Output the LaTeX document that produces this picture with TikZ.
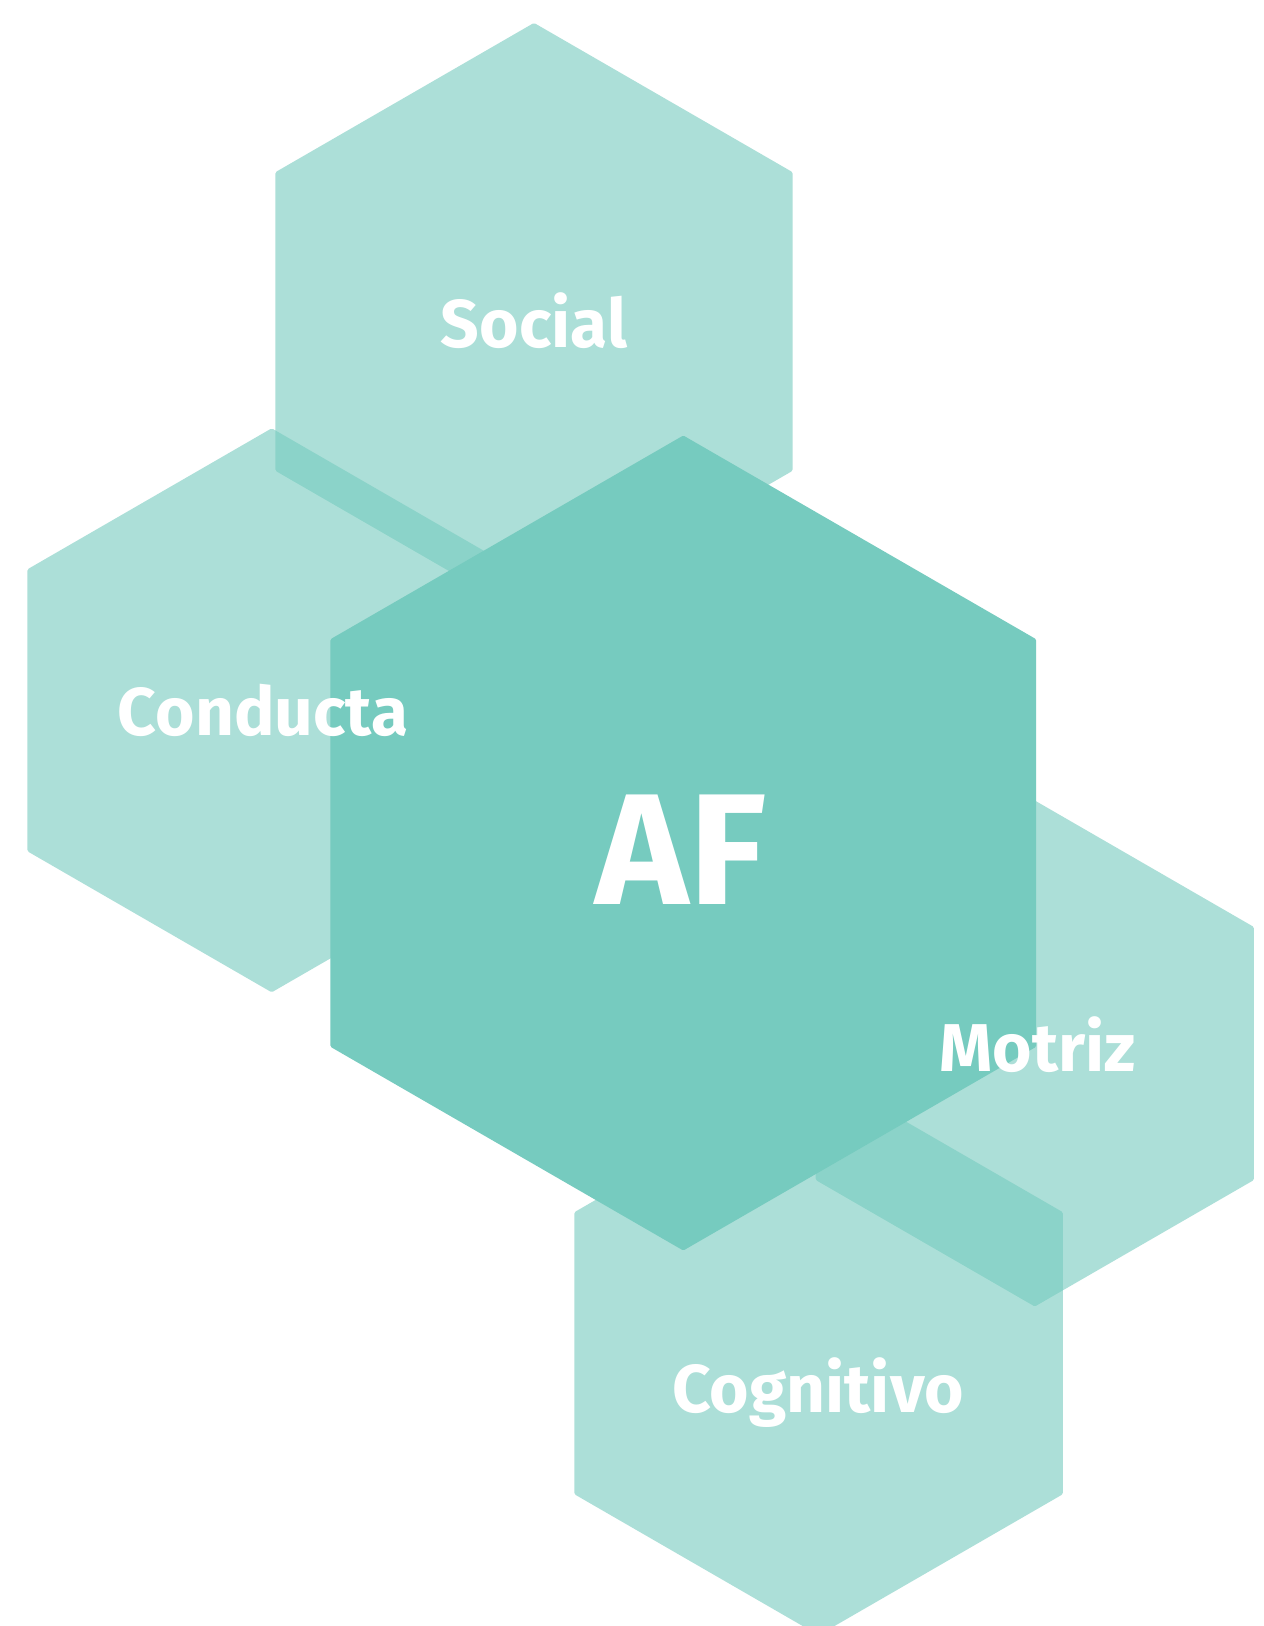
\documentclass[tikz,border=0pt]{standalone}
\usepackage{fontspec}
\setmainfont{Fira Sans}
\definecolor{afteal}{HTML}{76CBBF}
\tikzset{
    hexlight/.style={fill=afteal,fill opacity=0.6,rounded corners=0.8},
    hexmain/.style={fill=afteal,rounded corners=0.8},
    hexlabel/.style={text=white,font=\bfseries\fontsize{38.5}{40}\selectfont,inner sep=0pt,anchor=base}
}
\begin{document}
\begin{tikzpicture}[x=0.02cm,y=-0.02cm]
        % Define dimensions
        \def\pagewidth{1264}
        \def\pageheight{1626}
        \clip (0,0) rectangle (\pagewidth,\pageheight);
        \fill[white] (0,0) rectangle (\pagewidth,\pageheight);
        % Draw the four outer hexagons (centre x, centre y, side)
        \foreach \cx/\cy/\r in {534/321.5/298.6, 271.7/710.3/282, 1034.8/1053.5/253, 818.6/1353.2/282}
            \fill[hexlight] (\cx,\cy) +(90:\r) -- +(150:\r) -- +(210:\r) -- +(270:\r) -- +(330:\r) -- +(30:\r) -- cycle;
        % Draw the central hexagon on top
        \fill[hexmain] (683.3,843) +(90:407.5) -- +(150:407.5) -- +(210:407.5) -- +(270:407.5) -- +(330:407.5) -- +(30:407.5) -- cycle;
        % Labels
        \node[hexlabel] (social) at (534,347) {Social};
        \node[hexlabel] (conducta) at (263,735) {Conducta};
        \node[hexlabel] (motriz) at (1037.5,1071) {Motriz};
        \node[hexlabel] (cognitivo) at (818,1412) {Cognitivo};
        \node[hexlabel,font=\bfseries\fontsize{90}{92}\selectfont] (af) at (681,904) {AF};
    \end{tikzpicture}
\end{document}
